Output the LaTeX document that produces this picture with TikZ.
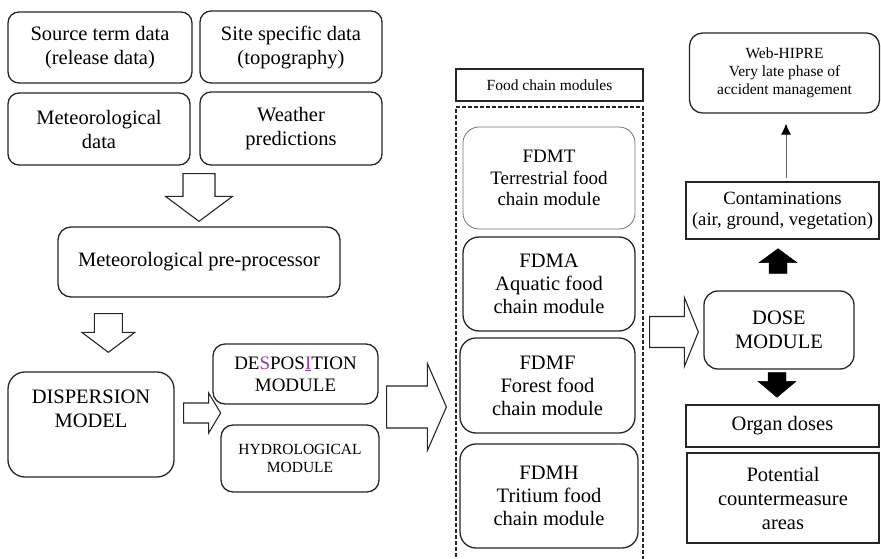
\documentclass[tikz,border=0pt]{standalone}
\usepackage{fontspec}
\setmainfont{Liberation Serif}
\usetikzlibrary{arrows, arrows.meta, calc}
\definecolor{spell}{RGB}{150,60,160}
\newcommand{\boxfont}{\fontsize{20.5}{24}\selectfont}
\newcommand{\modfont}{\fontsize{20.5}{23}\selectfont}
\newcommand{\despfont}{\fontsize{19}{22}\selectfont}
\newcommand{\notefont}{\fontsize{15.5}{18}\selectfont}
\tikzstyle{roundbox} = [rectangle, rounded corners=11pt, draw=black!85, line width=1.3pt, align=center, inner sep=2pt, font=\boxfont]
\tikzstyle{squarebox} = [rectangle, draw=black!85, line width=1.3pt, align=center, inner sep=2pt, font=\boxfont]
\tikzstyle{foodbox} = [roundbox, rounded corners=16pt, font=\modfont]
\tikzstyle{hollow} = [draw=black!85, line width=1.1pt, fill=white]
\tikzstyle{filled} = [draw=black, fill=black]
\tikzstyle{arrow} = [-{Latex[length=11pt, width=10pt, black]}, line width=0.9pt, draw=black!60]
% block arrow: [style]{from}{to}{shaft half width}{head half width}{head length}
\newcommand{\blockarrow}[6][hollow]{%
  \draw[#1] let \p1=#2, \p2=#3,
    \n1={atan2(\y2-\y1,\x2-\x1)},
    \n2={veclen(\x2-\x1,\y2-\y1)} in
    {[shift={(\p1)}, rotate=\n1]
    (0pt,{#4*1pt}) -- ({(\n2-#6)*1pt},{#4*1pt}) -- ({(\n2-#6)*1pt},{#5*1pt})
    -- ({\n2*1pt},0pt) -- ({(\n2-#6)*1pt},{-#5*1pt}) -- ({(\n2-#6)*1pt},{-#4*1pt})
    -- (0pt,{-#4*1pt}) -- cycle};}

\begin{document}
\begin{tikzpicture}[x=1pt, y=-1pt]
\useasboundingbox (0,0) rectangle (881,559);

% input data
\node (source) [roundbox, minimum width=184pt, minimum height=71pt] at (100,47.5) {Source term data\\(release data)};
\node (site) [roundbox, minimum width=182pt, minimum height=72pt] at (291,47) {Site specific data\\(topography)};
\node (metdata) [roundbox, minimum width=182pt, minimum height=72pt] at (99,129) {Meteorological\\data};
\node (weather) [roundbox, minimum width=182pt, minimum height=73pt] at (291,128.5) {Weather\\predictions};
\node (preproc) [roundbox, rounded corners=13pt, minimum width=282pt, minimum height=70pt] at (199,262) {Meteorological pre-processor};

% dispersion and deposition
\node (disp) [roundbox, rounded corners=17pt, minimum width=166pt, minimum height=105pt] at (91,424.5) {};
\node (disptext) [anchor=north, align=center, inner sep=2pt, font=\boxfont] at ($(disp.north)+(0,16)$) {DISPERSION\\MODEL};
\node (desp) [roundbox, rounded corners=12pt, font=\despfont, minimum width=165pt, minimum height=60pt] at (295.5,374) {DE\textcolor{spell}{S}POS\textcolor{spell}{\underline{I}}TION\\MODULE};
\node (hydro) [roundbox, rounded corners=12pt, font=\notefont, minimum width=158pt, minimum height=67pt] at (300,458.5) {HYDROLOGICAL\\MODULE};

% food chain modules
\node (foodlabel) [squarebox, font=\notefont, minimum width=187pt, minimum height=32pt] at (549.5,85) {Food chain modules};
\node (chain) [rectangle, draw=black!85, line width=1.2pt, dash pattern=on 4pt off 2pt, minimum width=187pt, minimum height=470pt] at (549.5,342) {};
\node (fdmt) [foodbox, draw=black!55, line width=0.8pt, font=\fontsize{19}{21.5}\selectfont, minimum width=172pt, minimum height=102pt] at (549,178) {FDMT\\Terrestrial food\\chain module};
\node (fdma) [foodbox, minimum width=172pt, minimum height=94pt] at (549,284) {FDMA\\Aquatic food\\chain module};
\node (fdmf) [foodbox, minimum width=175pt, minimum height=95pt] at (547.5,385.5) {FDMF\\Forest food\\chain module};
\node (fdmh) [foodbox, minimum width=178pt, minimum height=104pt] at (549,496) {FDMH\\Tritium food\\chain module};

% dose and results
\node (web) [roundbox, rounded corners=13pt, font=\notefont, minimum width=190pt, minimum height=80pt] at (784.5,73) {Web-HIPRE\\Very late phase of\\accident management};
\node (contam) [squarebox, font=\fontsize{18.7}{21}\selectfont, minimum width=193pt, minimum height=57pt] at (782.5,210.5) {Contaminations\\(air, ground, vegetation)};
\node (dose) [roundbox, rounded corners=14pt, minimum width=150pt, minimum height=78pt] at (779,330) {DOSE\\MODULE};
\node (organ) [squarebox, minimum width=193pt, minimum height=42pt] at (782.5,426) {Organ doses};
\node (counter) [squarebox, minimum width=192pt, minimum height=90pt] at (783,498) {Potential\\countermeasure\\areas};

% block arrows
\blockarrow{($(preproc.north |- metdata.south)+(0,8)$)}{($(preproc.north)+(0,-5)$)}{16}{33.5}{25}
\blockarrow{($(preproc.south west)+(51,16)$)}{($(disp.north west)+(101,-19)$)}{14}{26.5}{20}
\blockarrow{($(disp.east)+(9,-11.5)$)}{($(disp.east)+(46,-11.5)$)}{10}{20}{12}
\blockarrow{($(desp.east)+(8,33)$)}{($(chain.west |- desp.east)+(-9,33)$)}{21}{43.5}{19}
\blockarrow{($(chain.east |- dose.west)+(6,2)$)}{($(dose.west)+(-5,2)$)}{15.5}{34.5}{14}
\blockarrow[filled]{($(dose.north)+(-1,-17)$)}{($(contam.south)+(-4.5,9)$)}{9}{19}{14}
\blockarrow[filled]{($(dose.south)+(-2,3)$)}{($(organ.north)+(-5.5,-7)$)}{9}{19}{16}

\draw [arrow, shorten <=3pt, shorten >=10pt] ($(contam.north)+(3.5,0)$) -- ($(contam.north |- web.south)+(3.5,0)$);

\end{tikzpicture}
\end{document}
